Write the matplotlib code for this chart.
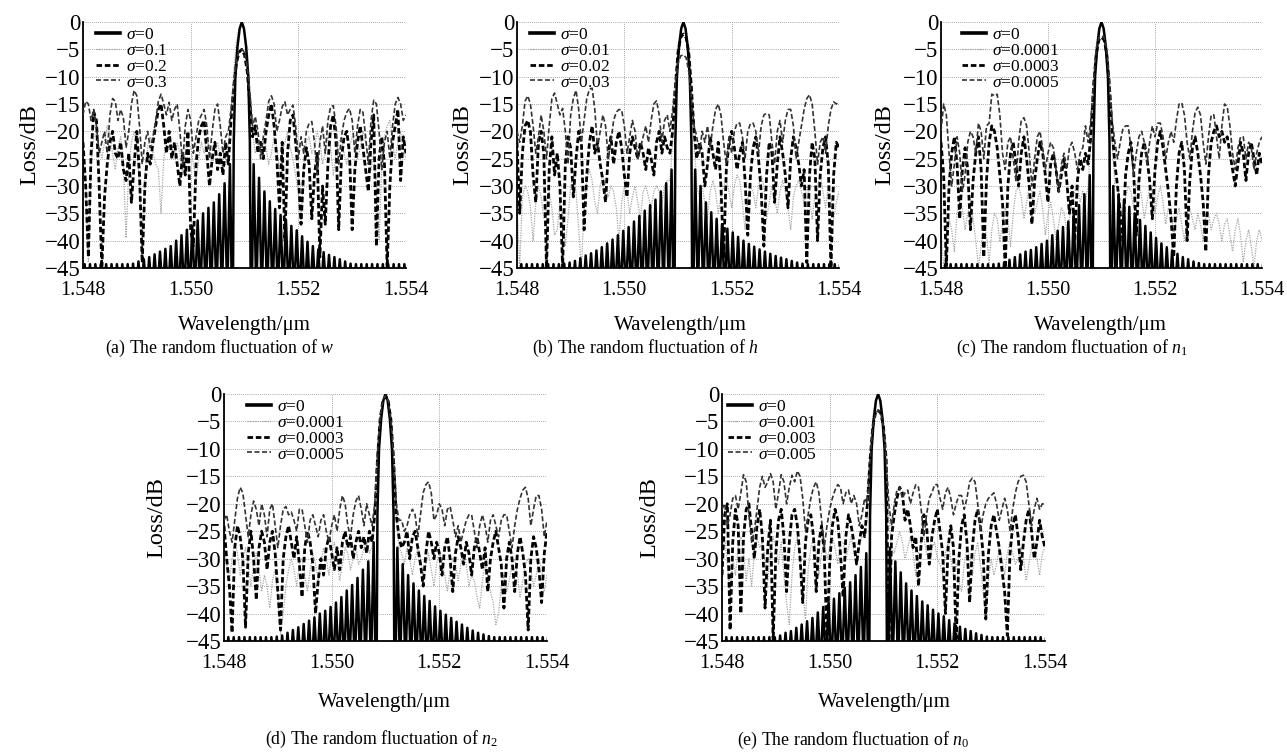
import matplotlib.pyplot as plt
import numpy as np

plt.rcParams['font.family'] = ['Liberation Serif', 'DejaVu Serif']
plt.rcParams['mathtext.fontset'] = 'custom'
plt.rcParams['mathtext.rm'] = 'Liberation Serif'
plt.rcParams['mathtext.it'] = 'Liberation Serif:italic'

# wavelength grid of the perturbed spectra (um), 0.05 nm step
lam = np.linspace(1.548, 1.554, 121)

# ideal grating (sigma=0): main lobe, offset from Bragg wavelength in nm
lobe_off = [-0.17, -0.15, -0.12, -0.08, -0.04, 0.0, 0.04, 0.08, 0.12, 0.15, 0.17]
lobe_db = [-60, -22, -10, -4.5, -1.2, 0, -1.2, -4.5, -10, -22, -60]
side_first = 0.22   # nm, first side lobe
side_step = 0.1     # nm between side lobes
null_db = -50

# ---- (a) width w ----
a_center = 1.55095
a_sig = ['0', '0.1', '0.2', '0.3']
a_left = [-26, -29.5, -31.5, -33, -34, -35, -36.3, -37.3, -38, -39,
          -40, -41, -41.5, -42, -42.5, -43, -43.4, -43.8, -44.2, -44.3,
          -44.3, -44.3, -44.3, -44.3, -44.3, -44.3, -44.3, -44.3, -44.3, -44.3]
a_right = [-26, -28.5, -31, -32.8, -34.2, -35.3, -36.2, -37.3, -38.1, -39.2,
           -40.2, -41, -41.6, -42.1, -42.6, -43, -43.4, -43.8, -44.2, -44.3,
           -44.3, -44.3, -44.3, -44.3, -44.3, -44.3, -44.3, -44.3, -44.3, -44.3]
a_s1 = [-24, -30, -44, -26, -21, -20, -23, -25, -22, -19,
        -21, -24, -27, -23, -21, -26, -39.5, -27, -22, -20,
        -23, -30, -42, -28, -23, -21, -24, -26, -27, -35,
        -25, -22, -21, -23, -25, -22, -24, -28, -24, -22,
        -23, -26, -29, -25, -22, -24, -21, -23, -26, -24,
        -22, -25, -27, -26, -23, -17, -9, -3.5, -1.2, -0.8,
        -1.5, -5, -12, -20, -24, -22, -24, -21, -23, -26,
        -24, -21, -23, -27, -24, -22, -20, -23, -25, -28,
        -31, -37, -26, -22, -21, -24, -23, -20, -22, -26,
        -24, -21, -23, -28, -24, -22, -21, -24, -26, -23,
        -21, -22, -25, -23, -20, -22, -25, -27, -24, -30,
        -40, -26, -21, -19, -18, -22, -25, -22, -20, -23,
        -25]
a_s2 = [-22, -30, -43, -24, -16.5, -18, -30, -45, -32, -26,
        -22, -20, -24, -25, -22, -27, -29, -24, -33, -26,
        -20, -28, -44, -30, -24, -26, -22, -19, -16, -15,
        -19, -24, -20, -25, -22, -26, -30, -24, -28, -20,
        -38, -41, -26, -21, -19, -18, -24, -30, -25, -22,
        -27, -24, -28, -22, -26, -18, -12, -7.5, -5.5, -5,
        -6, -9, -15, -21, -19, -24, -22, -25, -20, -17,
        -15, -19, -25, -34, -22, -40, -24, -18, -17, -22,
        -28, -37, -27, -23, -26, -36, -28, -24, -43, -30,
        -37, -26, -19, -17, -22, -38, -25, -21, -20, -24,
        -38, -27, -22, -19, -23, -27, -31, -22, -17, -41,
        -25, -21, -26, -45, -30, -22, -19, -16, -29, -21,
        -24]
a_s3 = [-17, -14.5, -15, -18, -16, -19, -24, -22, -20, -24,
        -17, -14, -14.5, -18, -16, -17.5, -23, -20, -15, -12.5,
        -13.5, -19, -26, -22, -20, -23, -21, -18, -14.5, -13.2,
        -15, -17, -14.7, -18, -16, -15, -20, -26, -19, -16,
        -18, -24, -21, -18, -17, -16, -19, -25, -20, -16,
        -15, -19, -24, -21, -20, -16, -11, -7, -5.3, -5,
        -5.5, -8, -13, -19, -17.3, -20, -25, -21, -18, -14.5,
        -13.5, -15, -20, -18, -15.5, -14.6, -17, -16, -15.2, -19,
        -25, -21, -24, -20, -18.5, -18.2, -22, -28, -22, -19,
        -24, -18, -15.5, -15.3, -19, -26, -21, -18, -16.5, -15.8,
        -18, -24, -19, -16, -16.5, -21, -26, -18, -14.3, -15,
        -20, -27, -22, -20, -25, -19, -15, -13.8, -15, -18,
        -17]

# ---- (b) height h ----
b_center = 1.5511
b_sig = ['0', '0.01', '0.02', '0.03']
b_left = [-27, -29.5, -31, -32.5, -33.5, -34.5, -35.5, -36.5, -37.5, -38.2,
          -39, -39.8, -40.5, -41.2, -41.8, -42.3, -42.7, -43.2, -43.7, -44,
          -44.2, -44.3, -44.3, -44.3, -44.3, -44.3, -44.3, -44.3, -44.3, -44.3]
b_right = [-27, -30, -33, -34.8, -36, -37, -37.8, -38.5, -39.3, -40,
           -40.6, -41.1, -41.6, -42, -42.4, -42.8, -43.1, -43.4, -43.7, -44,
           -44.2, -44.3, -44.3, -44.3, -44.3, -44.3, -44.3, -44.3, -44.3, -44.3]
b_s1 = [-33, -45, -32, -30, -31, -34, -40, -33, -30, -32,
        -36, -33, -31, -34, -39, -38, -33, -35, -41, -36,
        -30, -28, -31, -38, -45, -34, -29, -27, -29, -33,
        -35, -30, -28, -30, -32, -30, -31, -34, -40, -33,
        -30, -31, -35, -32, -30, -33, -36, -31, -30, -32,
        -34, -31, -30, -31, -33, -30, -29, -29, -22, -12,
        -4.5, -1.2, -0.3, -1.2, -4.5, -12, -22, -30, -32, -30,
        -33, -36, -31, -29, -31, -35, -32, -30, -29, -31,
        -34, -30, -28, -29, -33, -38, -32, -30, -31, -34,
        -30, -28, -30, -36, -33, -30, -32, -35, -31, -29,
        -31, -34, -38, -32, -30, -29, -31, -33, -30, -32,
        -36, -32, -30, -28, -31, -34, -30, -32, -36, -33,
        -31]
b_s2 = [-22, -35, -24, -19, -18, -20, -28, -33, -22, -20,
        -24, -45, -27, -21, -28, -24, -30, -45, -26, -21,
        -23, -32, -25, -20, -22, -38, -28, -22, -19, -24,
        -22, -26, -29, -33, -24, -21, -26, -22, -20, -23,
        -28, -32, -24, -21, -23, -25, -22, -24, -27, -23,
        -25, -28, -22, -20, -24, -21, -23, -24, -20, -12,
        -5.5, -2.8, -2.2, -2.8, -5.5, -12, -20, -25, -22, -24,
        -30, -26, -21, -24, -27, -22, -30, -43, -27, -22,
        -20, -23, -27, -24, -22, -29, -39, -28, -23, -21,
        -25, -31, -41, -28, -22, -24, -33, -26, -21, -24,
        -28, -34, -25, -21, -23, -26, -30, -27, -44, -28,
        -22, -25, -40, -28, -23, -21, -26, -45, -28, -22,
        -23]
b_s3 = [-20, -22, -19, -14.5, -13.5, -15, -19, -24, -21, -17,
        -20, -25, -19, -14, -13, -15, -17, -15.8, -20, -26,
        -17, -14, -12.5, -16, -22, -18, -14, -12.3, -12.1, -16,
        -23, -20, -17, -19, -25, -22, -18, -16.5, -16, -16.1,
        -19, -24, -21, -18, -20, -25, -23, -21, -19, -22,
        -18, -15, -14.4, -17, -22, -18, -17, -20, -16, -11,
        -7.5, -6.2, -6, -6.5, -9, -14, -19, -21, -24, -20,
        -22, -19, -23, -19, -16, -15, -17, -22, -26, -21,
        -24, -20, -18.5, -18.5, -21, -25, -20, -18.6, -18.5, -20,
        -24, -19, -17, -16.7, -17, -22, -26, -20, -18, -22,
        -18, -16, -16, -19, -25, -22, -19, -16, -14, -13.3,
        -15, -20, -26, -22, -21, -24, -19, -16, -14.6, -15,
        -14.5]

# ---- (c) index n1 ----
c_center = 1.5510
c_sig = ['0', '0.0001', '0.0003', '0.0005']
c_left = [-28, -31.5, -33.5, -35, -36.5, -37.5, -38.2, -39, -40, -40.6,
          -41.2, -41.7, -42, -42.5, -43, -43.5, -44, -44.2, -44.3, -44.3,
          -44.3, -44.3, -44.3, -44.3, -44.3, -44.3, -44.3, -44.3, -44.3, -44.3]
c_right = [-30, -31.5, -32.5, -33.8, -35, -36.2, -37.3, -38.5, -39.5, -40.5,
           -41.2, -41.8, -42.4, -43, -43.4, -43.8, -44.1, -44.3, -44.3, -44.3,
           -44.3, -44.3, -44.3, -44.3, -44.3, -44.3, -44.3, -44.3, -44.3, -44.3]
c_s1 = [-38, -45, -40, -36, -38, -42, -35, -33, -34, -38,
        -35, -33, -36, -40, -45, -41, -37, -39, -44, -38,
        -35, -36, -40, -37, -34, -36, -41, -35, -31, -30,
        -32, -36, -33, -30, -31, -35, -33, -31, -34, -39,
        -35, -33, -36, -40, -37, -34, -35, -38, -36, -33,
        -31, -30, -33, -31, -33, -30, -22, -12, -4.5, -1.2,
        -0.3, -1.2, -4.5, -12, -22, -30, -30, -33, -36, -32,
        -30, -31, -34, -30, -29, -32, -36, -33, -30, -31,
        -35, -32, -30, -33, -37, -34, -35, -39, -36, -34,
        -37, -40, -36, -34, -36, -38, -35, -37, -40, -36,
        -35, -38, -36, -35, -37, -40, -37, -36, -39, -42,
        -38, -36, -39, -44, -40, -38, -41, -45, -40, -38,
        -40]
c_s2 = [-22, -28, -45, -30, -24, -21, -26, -36, -27, -23,
        -27, -38, -29, -24, -21, -27, -43, -29, -22, -19,
        -20, -23, -28, -33, -45, -30, -24, -22, -26, -30,
        -24, -21, -25, -30, -37, -29, -25, -22, -24, -28,
        -33, -26, -24, -27, -31, -28, -25, -29, -35, -30,
        -40, -29, -25, -27, -24, -26, -21, -12, -6, -3.3,
        -2.8, -3.3, -6, -12, -20, -26, -30, -35, -40, -28,
        -24, -22, -27, -39, -29, -24, -22, -25, -29, -36,
        -27, -22, -20, -23, -27, -31, -36, -43, -30, -24,
        -22, -27, -40, -29, -23, -21, -24, -28, -33, -42,
        -28, -22, -20, -19, -21, -20, -22, -21, -24, -27,
        -30, -26, -22, -24, -29, -24, -22, -25, -28, -24,
        -26]
c_s3 = [-20, -15, -17, -24, -30, -26, -21, -24, -31, -28,
        -22, -20, -21, -24, -18.5, -20, -25, -19, -18.5, -13.2,
        -13.5, -13.2, -17, -24, -27, -22, -21, -25, -29, -22,
        -18, -17.5, -19, -24, -30, -25, -21, -20, -23, -27,
        -24, -22, -23, -27, -31, -26, -24, -27, -23, -22,
        -24, -27, -24, -23, -19, -22, -18, -11, -5, -2.8,
        -2.5, -2.8, -5, -11, -18, -22, -25, -22, -19.5, -19,
        -19, -23, -28, -24, -21, -20, -22, -26, -22, -19,
        -21, -18.5, -18.5, -21, -25, -22, -20, -22, -18, -15,
        -14.8, -17, -22, -25, -20, -16.5, -15.6, -17, -22, -26,
        -21, -17, -17, -21, -25, -19, -15, -15.5, -19, -24,
        -27, -23, -21, -21, -25, -22, -23, -27, -24, -22,
        -21]

# ---- (d) index n2 ----
d_center = 1.5510
d_sig = ['0', '0.0001', '0.0003', '0.0005']
d_left = [-27, -30.5, -32, -33.5, -34.8, -35.8, -37, -38, -38.8, -39.5,
          -40, -40.7, -41.3, -41.9, -42.5, -43, -43.5, -44, -44.2, -44.3,
          -44.3, -44.3, -44.3, -44.3, -44.3, -44.3, -44.3, -44.3, -44.3, -44.3]
d_right = [-28, -31, -33, -34.5, -35.8, -36.8, -37.7, -38.7, -39.5, -40.2,
           -40.8, -41.5, -42, -42.6, -43.1, -43.5, -43.8, -44.1, -44.3, -44.3,
           -44.3, -44.3, -44.3, -44.3, -44.3, -44.3, -44.3, -44.3, -44.3, -44.3]
d_s1 = [-28, -31, -34, -30, -27, -29, -33, -30, -28, -31,
        -35, -31, -29, -32, -36, -33, -35, -39, -34, -32,
        -37, -44, -40, -35, -32, -30, -32, -35, -31, -30,
        -33, -36, -32, -29, -31, -34, -31, -28, -30, -33,
        -29, -27, -30, -34, -31, -28, -29, -32, -30, -28,
        -31, -30, -28, -27, -29, -28, -22, -12, -4.5, -1.2,
        -0.3, -1.2, -4.5, -12, -22, -28, -29, -31, -28, -30,
        -33, -30, -28, -30, -33, -31, -29, -32, -35, -31,
        -29, -30, -33, -36, -32, -30, -31, -34, -31, -29,
        -31, -35, -33, -34, -37, -39, -34, -31, -33, -36,
        -38, -42, -40, -35, -33, -36, -34, -31, -30, -33,
        -37, -34, -31, -30, -32, -35, -33, -30, -32, -36,
        -33]
d_s2 = [-24, -30, -35, -43.5, -28, -24, -26, -30, -42.5, -29,
        -25, -30, -37.5, -28, -25, -27, -32, -27, -25, -29,
        -36, -43, -30, -26, -24, -27, -30, -26, -31, -37,
        -28, -25, -27, -31, -40, -34, -30, -33, -28, -26,
        -29, -32, -28, -32, -27, -25, -28, -26, -30, -27,
        -25, -28, -26, -29, -25, -27, -22, -12, -4.6, -1.3,
        -0.4, -1.3, -4.6, -12, -22, -26, -28, -27, -25, -30,
        -26, -25, -28, -31, -35, -29, -25, -27, -30, -27,
        -29, -33, -28, -26, -30, -36, -29, -26, -28, -31,
        -27, -29, -33, -28, -26, -29, -32, -28, -36, -30,
        -27, -25, -28, -31, -39, -30, -27, -30, -36, -29,
        -26, -29, -33, -43, -30, -26, -28, -32, -38, -29,
        -25]
d_s3 = [-23, -22, -25, -27, -23, -19, -17, -18, -22, -26,
        -22, -19.5, -21, -24, -20, -22, -26, -21, -20, -24,
        -28, -24, -21, -20.5, -22, -21.5, -23, -25, -21, -21,
        -24, -27, -23, -22, -24, -26, -23, -22, -25, -27,
        -24, -22, -25, -21, -18.5, -20, -24, -26, -22, -19.5,
        -18.5, -21, -24, -20, -22, -24, -20, -11, -4.5, -1.2,
        -0.3, -1.2, -4.5, -11, -20, -23, -23, -25, -24, -22,
        -21, -22, -26, -22, -18, -16.5, -16, -18, -23, -22,
        -20, -21, -24, -21, -20.5, -23, -26, -24, -27, -25,
        -23, -22, -22, -25, -28, -24, -22, -24, -27, -23,
        -22, -24, -26, -23, -22, -22, -25, -28, -24, -21,
        -19, -17.5, -17, -19, -24, -21, -18.5, -18.5, -21, -26,
        -23]

# ---- (e) index n0 ----
e_center = 1.5509
e_sig = ['0', '0.001', '0.003', '0.005']
e_left = [-29, -31.5, -33, -34.3, -35.3, -36.3, -37.3, -38, -38.8, -39.8,
          -40.8, -41.4, -42, -42.6, -43.2, -43.5, -44, -44.3, -44.3, -44.3,
          -44.3, -44.3, -44.3, -44.3, -44.3, -44.3, -44.3, -44.3, -44.3, -44.3]
e_right = [-28, -30.5, -32.5, -34.5, -35.8, -36.8, -37.8, -38.5, -39.3, -40,
           -40.5, -41.2, -41.8, -42.4, -42.8, -43.2, -43.6, -43.9, -44.2, -44.3,
           -44.3, -44.3, -44.3, -44.3, -44.3, -44.3, -44.3, -44.3, -44.3, -44.3]
e_s1 = [-29, -26, -31, -37, -30, -33, -28, -26, -29, -34,
        -30, -35, -29, -26, -28, -27, -30, -34, -29, -26,
        -28, -31, -27, -33, -38, -42, -33, -28, -26, -30,
        -36, -41, -32, -28, -26, -29, -33, -29, -27, -30,
        -28, -26, -28, -31, -27, -27, -30, -28, -26, -29,
        -31, -28, -26, -26, -22, -12, -4.5, -1.2, -0.3, -1.2,
        -4.5, -12, -22, -28, -29, -27, -25, -27, -30, -28,
        -26, -29, -33, -29, -27, -26, -29, -31, -28, -27,
        -30, -31, -33, -29, -27, -30, -33, -31, -34, -36,
        -31, -28, -30, -33, -29, -27, -31, -36, -41, -34,
        -30, -33, -31, -28, -30, -33, -29, -27, -29, -31,
        -30, -28, -30, -34, -31, -28, -27, -30, -33, -29,
        -28]
e_s2 = [-33, -22, -20, -43, -27, -21, -24, -40, -26, -21,
        -20, -25, -30, -24, -21, -26, -39, -28, -23, -45,
        -29, -23, -21, -26, -36, -27, -22, -21, -24, -30,
        -38, -27, -23, -22, -26, -36, -27, -24, -29, -45,
        -31, -24, -21, -23, -29, -37, -26, -22, -24, -27,
        -31, -27, -24, -26, -20, -12, -6, -3.5, -3, -3.5,
        -6, -12, -45, -26, -22, -19, -17, -18, -23, -21,
        -24, -28, -26, -35, -27, -22, -24, -31, -26, -23,
        -21, -25, -29, -40, -28, -24, -28, -45, -30, -24,
        -22, -27, -38, -28, -23, -21, -24, -29, -41, -29,
        -24, -22, -25, -28, -32, -36, -44, -29, -24, -22,
        -26, -32, -27, -23, -21, -25, -30, -27, -23, -26,
        -28]
e_s3 = [-21, -20, -24, -22, -19, -18.5, -21, -18, -14.7, -16,
        -22, -27, -25, -21, -17, -15, -17, -16, -14.5, -16,
        -21, -18, -14.7, -16, -20, -17, -14.8, -16, -14, -15,
        -19, -25, -22, -19, -17, -16, -18, -23, -28, -24,
        -21, -19, -17.5, -16.5, -17, -20, -18, -17.5, -20, -18.5,
        -20, -24, -22, -19, -20, -12, -6, -3.5, -3, -3.5,
        -6, -12, -20, -24, -20, -17.5, -17, -19, -18, -17.5,
        -20, -18, -16.5, -17, -21, -26, -22, -19, -18, -16.5,
        -16.5, -19, -21, -18, -17, -19, -22, -20, -18.5, -18.5,
        -21, -19, -16, -15.3, -16, -20, -25, -22, -20, -19,
        -18.5, -18, -20, -23, -21, -19, -21, -25, -21, -18,
        -16, -15, -14.8, -16, -20, -24, -21, -19, -21, -20,
        -20]

xticks = [1.548, 1.550, 1.552, 1.554]
yticks = list(range(-45, 1, 5))

captions = ['(a) The random fluctuation of $w$',
            '(b) The random fluctuation of $h$',
            '(c) The random fluctuation of $n_1$',
            '(d) The random fluctuation of $n_2$',
            '(e) The random fluctuation of $n_0$']

panels = [
    (a_center, a_left, a_right, [a_s1, a_s2, a_s3], a_sig),
    (b_center, b_left, b_right, [b_s1, b_s2, b_s3], b_sig),
    (c_center, c_left, c_right, [c_s1, c_s2, c_s3], c_sig),
    (d_center, d_left, d_right, [d_s1, d_s2, d_s3], d_sig),
    (e_center, e_left, e_right, [e_s1, e_s2, e_s3], e_sig),
]

# layout in pixels (left, top, right, bottom)
W, H = 1287, 752
rects = [(83, 22, 406, 268), (517, 22, 839, 268), (941, 22, 1262, 268),
         (224, 394, 547, 641), (722, 394, 1045, 641)]
ylabel_x = [30, 463, 885, 157, 650]
xlabel_xy = [(244, 325), (680, 325), (1100, 325), (384, 702), (884, 702)]
caption_xy = [(220, 348), (645, 348), (1072, 348), (381, 739), (853, 740)]
legend_dx = [13, 13, 21, 23, 6]

styles = [
    dict(color='black', lw=1.8, ls='-'),
    dict(color='#a6a6a6', lw=0.9, ls=(0, (1, 1))),
    dict(color='black', lw=2.0, ls=(0, (2, 1))),
    dict(color='#333333', lw=1.2, ls=(0, (3, 1.5))),
]


def ideal_curve(center, left, right):
    xs, ys = [], []
    for k in range(len(left) - 1, -1, -1):
        d = side_first + side_step * k
        xs += [-(d + side_step / 2), -d]
        ys += [null_db, left[k]]
    xs += lobe_off
    ys += lobe_db
    for k in range(len(right)):
        d = side_first + side_step * k
        xs += [d, d + side_step / 2]
        ys += [right[k], null_db]
    return center + np.array(xs) * 1e-3, np.array(ys)


fig = plt.figure(figsize=(W / 100, H / 100), dpi=100)

for i, (center, left, right, noisy, sig) in enumerate(panels):
    l, t, r, b = rects[i]
    ax = fig.add_axes([l / W, 1 - b / H, (r - l) / W, (b - t) / H])
    x0, y0 = ideal_curve(center, left, right)
    ax.plot(x0, y0, label=r'$\sigma$=' + sig[0], zorder=3, **styles[0])
    for j, yv in enumerate(noisy):
        ax.plot(lam, yv, label=r'$\sigma$=' + sig[j + 1], zorder=2 + j * 0.5, **styles[j + 1])

    ax.set_xlim(1.548, 1.554)
    ax.set_ylim(-45, 0)
    ax.set_xticks(xticks)
    ax.set_xticklabels([f'{v:.3f}' for v in xticks])
    ax.set_yticks(yticks)
    ax.tick_params(length=0)
    ax.tick_params(axis='x', pad=9, labelsize=14.5)
    ax.tick_params(axis='y', pad=2, labelsize=16.5)
    ax.grid(True, color='#8c8c8c', ls=(0, (1, 1.5)), lw=0.6)
    ax.set_axisbelow(True)
    for s in ['top', 'right']:
        ax.spines[s].set_visible(False)
    for s in ['left', 'bottom']:
        ax.spines[s].set_linewidth(1.3)

    leg = ax.legend(loc='upper left', bbox_to_anchor=(legend_dx[i] / (r - l), 1 - 5 / (b - t)),
                    frameon=False, fontsize=12.5, borderpad=0, borderaxespad=0,
                    handlelength=1.4, handletextpad=0.3, labelspacing=-0.02)
    leg.legend_handles[0].set_linewidth(2.6)

    fig.text(ylabel_x[i] / W, 1 - (t + b) / 2 / H, 'Loss/dB', rotation=90,
             ha='center', va='center', fontsize=17.5)
    fig.text(xlabel_xy[i][0] / W, 1 - xlabel_xy[i][1] / H, 'Wavelength/μm',
             ha='center', va='center', fontsize=15)
    fig.text(caption_xy[i][0] / W, 1 - caption_xy[i][1] / H, captions[i],
             ha='center', va='center', fontsize=12.8)

fig.savefig('out.png', dpi=100)
